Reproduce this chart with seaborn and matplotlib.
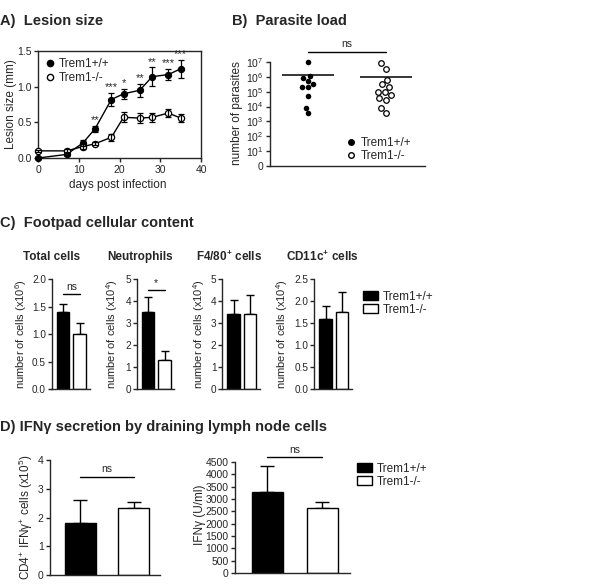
import matplotlib
matplotlib.use("Agg")
import matplotlib.pyplot as plt
import seaborn as sns
import pandas as pd
from matplotlib.lines import Line2D
from matplotlib.patches import Patch

# --- DATA ---
genotypes = ["Trem1+/+", "Trem1-/-"]

# A) lesion size (mm), mean +/- sem
days = [0, 7, 11, 14, 18, 21, 25, 28, 32, 35]
lesion_wt = [0.0, 0.05, 0.21, 0.41, 0.82, 0.90, 0.95, 1.14, 1.17, 1.25]
lesion_wt_err = [0.01, 0.02, 0.04, 0.04, 0.09, 0.07, 0.09, 0.13, 0.08, 0.13]
lesion_ko = [0.10, 0.10, 0.16, 0.20, 0.29, 0.57, 0.56, 0.57, 0.63, 0.56]
lesion_ko_err = [0.01, 0.02, 0.03, 0.02, 0.05, 0.07, 0.07, 0.06, 0.05, 0.05]
lesion_stars = ["", "", "", "**", "***", "*", "**", "**", "***", "***"]

# B) parasite load, log10(number of parasites) per mouse
parasites_wt_log = [7.0, 6.05, 5.9, 5.7, 5.5, 5.35, 5.3, 4.7, 3.9, 3.55]
parasites_ko_log = [6.9, 6.55, 5.8, 5.5, 5.35, 5.0, 4.95, 4.75, 4.55, 4.45, 3.9, 3.6]
parasites_mean_log = [6.1, 6.0]

# C) footpad cellular content
cell_titles = ["Total cells", "Neutrophils", "F4/80$^{+}$ cells", "CD11c$^{+}$ cells"]
cell_units = ["(x10$^{6}$)", "(x10$^{4}$)", "(x10$^{4}$)", "(x10$^{4}$)"]
cells_wt = [1.40, 3.48, 3.42, 1.58]
cells_wt_err = [0.15, 0.70, 0.62, 0.30]
cells_ko = [1.00, 1.32, 3.42, 1.75]
cells_ko_err = [0.20, 0.42, 0.85, 0.46]
cells_sig = ["ns", "*", "", ""]
cells_sig_y = [1.72, 4.5, None, None]
cells_ymax = [2.0, 5, 5, 2.5]
cells_ystep = [0.5, 1, 1, 0.5]

# D) IFNg secretion
ifng_cells = [1.82, 2.34]
ifng_cells_err = [0.80, 0.19]
ifng_conc = [3270, 2650]
ifng_conc_err = [1050, 240]

# --- STYLE ---
sns.set_style("ticks")
plt.rcParams["font.family"] = ["Liberation Sans", "DejaVu Sans"]
plt.rcParams["mathtext.fontset"] = "custom"
plt.rcParams["mathtext.rm"] = "Liberation Sans"
plt.rcParams["mathtext.it"] = "Liberation Sans:italic"
plt.rcParams["mathtext.bf"] = "Liberation Sans:bold"
plt.rcParams["mathtext.default"] = "regular"
plt.rcParams["axes.linewidth"] = 1.0
plt.rcParams["xtick.major.width"] = 1.0
plt.rcParams["ytick.major.width"] = 1.0
plt.rcParams["ytick.major.size"] = 3
plt.rcParams["xtick.major.size"] = 3
plt.rcParams["xtick.labelsize"] = 7.5
plt.rcParams["ytick.labelsize"] = 7.5
plt.rcParams["ytick.major.pad"] = 1.5
plt.rcParams["xtick.major.pad"] = 2

W, H = 592, 584
fig = plt.figure(figsize=(W / 100, H / 100), dpi=100)


def px_axes(x0, y0, x1, y1):
    return fig.add_axes([x0 / W, 1 - y1 / H, (x1 - x0) / W, (y1 - y0) / H])


def px_text(x, y, s, **kw):
    kw.setdefault("ha", "left")
    kw.setdefault("va", "center")
    return fig.text(x / W, 1 - y / H, s, **kw)


palette = {genotypes[0]: "black", genotypes[1]: "white"}

# --- A) Lesion size ---
px_text(0, 21, "A)  Lesion size", fontsize=10.5, fontweight="bold")
axA = px_axes(38, 51, 201, 158)
sns.lineplot(x=days, y=lesion_wt, color="black", marker="o", markersize=4.5,
             markeredgecolor="black", linewidth=1, clip_on=False, ax=axA, zorder=3)
sns.lineplot(x=days, y=lesion_ko, color="black", marker="o", markersize=4.5,
             markerfacecolor="white", markeredgecolor="black", markeredgewidth=0.9,
             linewidth=1, clip_on=False, ax=axA, zorder=3)
axA.errorbar(days, lesion_wt, yerr=lesion_wt_err, fmt="none", ecolor="black",
             elinewidth=0.9, capsize=2.5, capthick=0.9, clip_on=False, zorder=4)
axA.errorbar(days, lesion_ko, yerr=lesion_ko_err, fmt="none", ecolor="black",
             elinewidth=0.9, capsize=2.5, capthick=0.9, clip_on=False, zorder=4)
for d, m, e, s in zip(days, lesion_wt, lesion_wt_err, lesion_stars):
    if s:
        axA.text(d, m + e + 0.01, s, ha="center", va="bottom", fontsize=8)
axA.set_xlim(0, 40)
axA.set_ylim(0, 1.5)
axA.set_xticks([0, 10, 20, 30, 40])
axA.set_yticks([0.0, 0.5, 1.0, 1.5])
axA.set_yticklabels(["0.0", "0.5", "1.0", "1.5"])
axA.set_xlabel("")
axA.set_ylabel("")
px_text(118, 185, "days post infection", ha="center", fontsize=8.5)
px_text(11, 104, "Lesion size (mm)", ha="center", rotation=90, fontsize=8.5)
legA = [Line2D([], [], linestyle="none", marker="o", color="black", markersize=4.5),
        Line2D([], [], linestyle="none", marker="o", markerfacecolor="white",
               markeredgecolor="black", markersize=4.5)]
axA.legend(legA, genotypes, loc="upper left", frameon=False, fontsize=8.5,
           handlelength=0.8, handletextpad=0.4, borderaxespad=0.2, labelspacing=0.15)

# --- B) Parasite load ---
px_text(232, 21, "B)  Parasite load", fontsize=10.5, fontweight="bold")
axB = px_axes(270, 62, 425, 166)
sns.swarmplot(x=[genotypes[0]] * len(parasites_wt_log), y=parasites_wt_log, order=genotypes,
              color="black", size=4, ax=axB, clip_on=False)
sns.swarmplot(x=[genotypes[1]] * len(parasites_ko_log), y=parasites_ko_log, order=genotypes,
              color="white", edgecolor="black", linewidth=0.9, size=4, ax=axB, clip_on=False)
for i, m in enumerate(parasites_mean_log):
    axB.hlines(m, i - 0.33, i + 0.33, color="black", linewidth=1.1)
axB.plot([0, 1], [7.7, 7.7], color="black", linewidth=1, clip_on=False)
axB.text(0.5, 7.85, "ns", ha="center", va="bottom", fontsize=7.5)
axB.set_xlim(-0.49, 1.5)
axB.set_ylim(0, 7)
axB.set_yticks(range(0, 8))
axB.set_yticklabels(["0"] + [f"$10^{{{k}}}$" for k in range(1, 8)])
axB.tick_params(axis="x", length=0, labelbottom=False)
axB.set_xlabel("")
axB.set_ylabel("")
sns.despine(ax=axB)
px_text(237, 113, "number of parasites", ha="center", rotation=90, fontsize=8.5)
legB = [Line2D([], [], linestyle="none", marker="o", color="black", markersize=4),
        Line2D([], [], linestyle="none", marker="o", markerfacecolor="white",
               markeredgecolor="black", markersize=4)]
fig.legend(legB, genotypes, loc="upper left", bbox_to_anchor=(342 / W, 1 - 132 / H),
           frameon=False, fontsize=8.5, handlelength=0.8, handletextpad=0.4,
           labelspacing=0.1, borderaxespad=0)

# --- C) Footpad cellular content ---
px_text(0, 223, "C)  Footpad cellular content", fontsize=10.5, fontweight="bold")
c_left = [51.5, 136.5, 222, 314]
c_title_x = [52, 140, 229, 322]
c_ylab_x = [21, 112, 199, 282]
for i in range(4):
    ax = px_axes(c_left[i], 279, c_left[i] + 38, 389)
    df = pd.DataFrame({"genotype": genotypes, "value": [cells_wt[i], cells_ko[i]]})
    sns.barplot(data=df, x="genotype", y="value", hue="genotype", palette=palette,
                order=genotypes, hue_order=genotypes, edgecolor="black", linewidth=1,
                width=0.75, errorbar=None, legend=False, ax=ax)
    ax.errorbar([0, 1], [cells_wt[i], cells_ko[i]],
                yerr=[[0, 0], [cells_wt_err[i], cells_ko_err[i]]], fmt="none",
                ecolor="black", elinewidth=1, capsize=3, capthick=1, zorder=0)
    ax.set_xlim(-0.7, 1.6)
    ax.set_ylim(0, cells_ymax[i])
    step = cells_ystep[i]
    ticks = [k * step for k in range(int(round(cells_ymax[i] / step)) + 1)]
    ax.set_yticks(ticks)
    if step < 1:
        ax.set_yticklabels([f"{t:.1f}" for t in ticks])
    else:
        ax.set_yticklabels([f"{int(t)}" for t in ticks])
    ax.tick_params(axis="y", labelsize=7.2, pad=1)
    ax.tick_params(axis="x", length=0, labelbottom=False)
    ax.set_xlabel("")
    ax.set_ylabel("")
    sns.despine(ax=ax)
    if cells_sig[i]:
        y = cells_sig_y[i]
        ax.plot([0, 1], [y, y], color="black", linewidth=1, clip_on=False)
        ax.text(0.5, y + 0.02 * cells_ymax[i], cells_sig[i], ha="center", va="bottom",
                fontsize=7.5)
    px_text(c_title_x[i], 257, cell_titles[i], ha="center", fontsize=8.5, fontweight="bold")
    px_text(c_ylab_x[i], 334, "number of cells " + cell_units[i], ha="center",
            rotation=90, fontsize=8)

legC = [Patch(facecolor="black", edgecolor="black"),
        Patch(facecolor="white", edgecolor="black")]
fig.legend(legC, genotypes, loc="upper left", bbox_to_anchor=(358 / W, 1 - 286 / H),
           frameon=False, fontsize=8.5, handlelength=1.3, handleheight=0.8,
           handletextpad=0.4, labelspacing=0.1, borderaxespad=0)

# --- D) IFNg secretion ---
px_text(0, 427, "D) IFNγ secretion by draining lymph node cells", fontsize=10.5,
        fontweight="bold")

axD1 = px_axes(50, 460, 160, 575)
df = pd.DataFrame({"genotype": genotypes, "value": ifng_cells})
sns.barplot(data=df, x="genotype", y="value", hue="genotype", palette=palette,
            order=genotypes, hue_order=genotypes, edgecolor="black", linewidth=1,
            width=0.58, errorbar=None, legend=False, ax=axD1)
axD1.errorbar([0, 1], ifng_cells, yerr=[[0, 0], ifng_cells_err], fmt="none",
              ecolor="black", elinewidth=1, capsize=5, capthick=1, zorder=0)
axD1.set_xlim(-0.57, 1.49)
axD1.set_ylim(0, 4)
axD1.set_yticks([0, 1, 2, 3, 4])
axD1.plot([0, 1], [3.4, 3.4], color="black", linewidth=1)
axD1.text(0.5, 3.5, "ns", ha="center", va="bottom", fontsize=7.5)
axD1.tick_params(axis="x", length=0, labelbottom=False)
axD1.set_xlabel("")
axD1.set_ylabel("")
sns.despine(ax=axD1)
px_text(26, 517, "CD4$^{+}$ IFNγ$^{+}$ cells (x10$^{5}$)", ha="center", rotation=90,
        fontsize=8.5)

axD2 = px_axes(235, 462, 350, 573)
df = pd.DataFrame({"genotype": genotypes, "value": ifng_conc})
sns.barplot(data=df, x="genotype", y="value", hue="genotype", palette=palette,
            order=genotypes, hue_order=genotypes, edgecolor="black", linewidth=1,
            width=0.57, errorbar=None, legend=False, ax=axD2)
axD2.errorbar([0, 1], ifng_conc, yerr=[[0, 0], ifng_conc_err], fmt="none",
              ecolor="black", elinewidth=1, capsize=5, capthick=1, zorder=0)
axD2.set_xlim(-0.59, 1.5)
axD2.set_ylim(0, 4500)
axD2.set_yticks(range(0, 4501, 500))
axD2.plot([0, 1], [4700, 4700], color="black", linewidth=1, clip_on=False)
axD2.text(0.5, 4800, "ns", ha="center", va="bottom", fontsize=7.5)
axD2.tick_params(axis="x", length=0, labelbottom=False)
axD2.set_xlabel("")
axD2.set_ylabel("")
sns.despine(ax=axD2)
px_text(200, 515, "IFNγ (U/ml)", ha="center", rotation=90, fontsize=8.5)

legD = [Patch(facecolor="black", edgecolor="black"),
        Patch(facecolor="white", edgecolor="black")]
fig.legend(legD, genotypes, loc="upper left", bbox_to_anchor=(352 / W, 1 - 458 / H),
           frameon=False, fontsize=8.5, handlelength=1.3, handleheight=0.8,
           handletextpad=0.4, labelspacing=0.1, borderaxespad=0)

fig.savefig("out.png", dpi=100, facecolor="white")
